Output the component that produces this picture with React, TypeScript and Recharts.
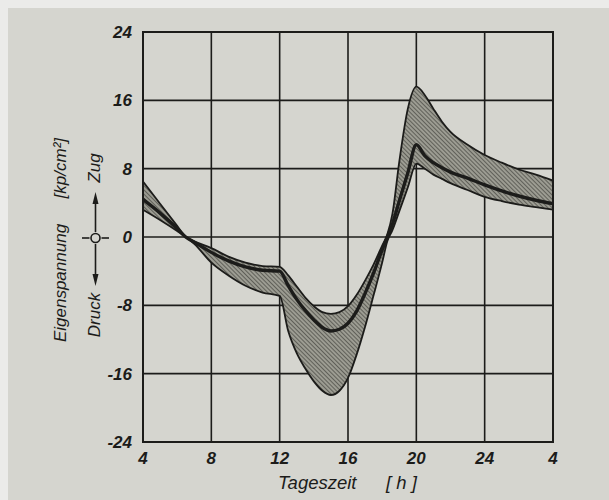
import React from 'react';
import {
  ComposedChart,
  Area,
  Line,
  XAxis,
  YAxis,
  CartesianGrid
} from 'recharts';

// Tageszeit in h (28 = 4 Uhr am Folgetag)
const hours = [4, 5, 6, 6.5, 7, 8, 9, 10, 11, 12, 12.5, 13, 13.5, 14, 14.5, 15, 15.5, 16, 16.5, 17, 17.5, 18, 18.3, 18.6, 19, 19.5, 20, 20.5, 21, 21.5, 22, 23, 24, 25, 26, 27, 28];

// Eigenspannung in kp/cm2
const upper = [6.5, 3.9, 1.3, 0, -0.5, -1.3, -2.3, -3.0, -3.4, -3.5, -4.5, -5.8, -7.1, -8.1, -8.8, -9.0, -8.8, -8.1, -6.8, -5.1, -3.2, -1.0, 0.3, 2.7, 8.8, 15.0, 17.6, 16.6, 15.0, 13.5, 12.3, 10.8, 9.6, 8.7, 7.9, 7.3, 6.6];
const middle = [4.4, 2.8, 1.0, 0, -0.6, -1.8, -2.8, -3.5, -3.9, -4.0, -5.7, -7.3, -8.6, -9.7, -10.6, -11.0, -10.8, -10.1, -8.7, -6.6, -4.2, -1.5, 0, 1.5, 4.2, 7.5, 10.8, 9.5, 8.7, 8.1, 7.6, 6.9, 6.1, 5.4, 4.8, 4.3, 3.9];
const lower = [3.2, 2.0, 0.7, 0, -0.8, -3.0, -4.5, -5.7, -6.5, -6.9, -11.0, -13.6, -15.4, -16.9, -18.0, -18.5, -18.0, -16.5, -13.8, -10.5, -6.8, -3.0, -0.5, 0.8, 3.0, 5.8, 8.6, 8.0, 7.3, 6.8, 6.3, 5.5, 4.7, 4.2, 3.8, 3.5, 3.2];

const xTicks = [4, 8, 12, 16, 20, 24, 28];
const xTickLabels = ['4', '8', '12', '16', '20', '24', '4'];
const yTicks = [-24, -16, -8, 0, 8, 16, 24];

const data = hours.map((h, i) => ({
  h,
  band: [lower[i], upper[i]],
  upper: upper[i],
  middle: middle[i],
  lower: lower[i]
}));

const font = '"Liberation Sans", Arial, sans-serif';
const ink = '#1c1c1a';

export default function App() {
  return (
    <div style={{ position: 'absolute', left: 0, top: 0, width: 609, height: 500, background: '#ebebe9' }}>
      <div style={{ position: 'absolute', left: 8, top: 8, width: 601, height: 492, background: '#d5d5cf' }} />
      <div style={{ position: 'absolute', left: 0, top: 0 }}>
        <ComposedChart width={609} height={500} data={data} margin={{ top: 32, right: 56, left: 103, bottom: 28 }}>
          <defs>
            <pattern id="hatch" width="3" height="3" patternUnits="userSpaceOnUse" patternTransform="rotate(-45)">
              <rect width="3" height="3" fill="#9c9c92" />
              <line x1="0" y1="0" x2="0" y2="3" stroke="#2e2e2a" strokeWidth="1.1" />
            </pattern>
          </defs>
          <CartesianGrid stroke={ink} strokeWidth={1.6} />
          <XAxis
            dataKey="h"
            type="number"
            domain={[4, 28]}
            ticks={xTicks}
            tickFormatter={(v: number) => xTickLabels[xTicks.indexOf(v)]}
            axisLine={{ stroke: ink, strokeWidth: 2 }}
            tickLine={false}
            height={30}
            tick={{ fill: ink, fontSize: 17, fontStyle: 'italic', fontWeight: 700, fontFamily: font }}
            tickMargin={4}
          />
          <YAxis
            type="number"
            domain={[-24, 24]}
            ticks={yTicks}
            axisLine={{ stroke: ink, strokeWidth: 2 }}
            tickLine={false}
            width={40}
            tick={{ fill: ink, fontSize: 17, fontStyle: 'italic', fontWeight: 700, fontFamily: font }}
            tickMargin={5}
          />
          <Area type="monotone" dataKey="band" fill="url(#hatch)" fillOpacity={1} stroke="none" isAnimationActive={false} />
          <Line type="monotone" dataKey="upper" stroke={ink} strokeWidth={1.8} dot={false} isAnimationActive={false} />
          <Line type="monotone" dataKey="lower" stroke={ink} strokeWidth={1.8} dot={false} isAnimationActive={false} />
          <Line type="monotone" dataKey="middle" stroke={ink} strokeWidth={3.4} dot={false} isAnimationActive={false} />
        </ComposedChart>
      </div>
      <svg width={609} height={500} style={{ position: 'absolute', left: 0, top: 0, pointerEvents: 'none' }}>
        <rect x={143} y={32} width={410} height={410} fill="none" stroke={ink} strokeWidth={2} />
        <text
          x={0}
          y={0}
          transform="translate(66 240) rotate(-90)"
          textAnchor="middle"
          fill={ink}
          fontSize={17}
          fontStyle="italic"
          fontFamily={font}
          fontWeight={500}
        >
          Eigenspannung{'\u2003\u2002'}[kp/cm²]
        </text>
        <text x={0} y={0} transform="translate(100 315) rotate(-90)" textAnchor="middle" fill={ink} fontSize={17} fontStyle="italic" fontFamily={font}>
          Druck
        </text>
        <text x={0} y={0} transform="translate(100 168) rotate(-90)" textAnchor="middle" fill={ink} fontSize={17} fontStyle="italic" fontFamily={font}>
          Zug
        </text>
        <line x1={95.5} y1={232} x2={95.5} y2={200} stroke={ink} strokeWidth={1.6} />
        <polygon points="95.5,192 92.5,204 98.5,204" fill={ink} />
        <line x1={95.5} y1={244} x2={95.5} y2={278} stroke={ink} strokeWidth={1.6} />
        <polygon points="95.5,286 92.5,274 98.5,274" fill={ink} />
        <line x1={82} y1={238} x2={89.5} y2={238} stroke={ink} strokeWidth={1.6} />
        <line x1={101.5} y1={238} x2={109} y2={238} stroke={ink} strokeWidth={1.6} />
        <circle cx={95.5} cy={238} r={4.5} fill="#d5d5cf" stroke={ink} strokeWidth={1.6} />
        <text x={278} y={489} fill={ink} fontSize={18.5} fontStyle="italic" fontFamily={font}>
          Tageszeit
        </text>
        <text x={386} y={489} fill={ink} fontSize={18.5} fontStyle="italic" fontFamily={font}>
          [ h ]
        </text>
      </svg>
    </div>
  );
}
